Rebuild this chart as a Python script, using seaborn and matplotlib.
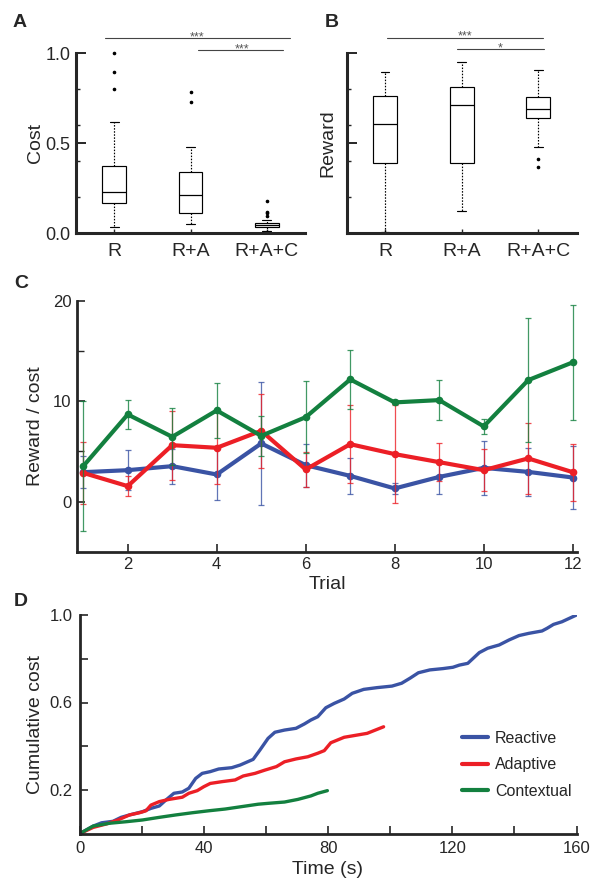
import numpy as np
import pandas as pd
import matplotlib
matplotlib.use("Agg")
import matplotlib.pyplot as plt
import seaborn as sns
from matplotlib.ticker import FixedLocator

sns.set_style("ticks")
plt.rcParams["font.family"] = ["Liberation Sans", "DejaVu Sans"]

# ---------------- data ----------------
conditions = ["R", "R+A", "R+A+C"]

cost_R = [0.037, 0.09, 0.12, 0.15, 0.167, 0.18, 0.20, 0.215, 0.228, 0.25, 0.28, 0.32, 0.372,
          0.618, 0.80, 0.896, 1.0]
cost_RA = [0.052, 0.07, 0.09, 0.10, 0.111, 0.14, 0.17, 0.19, 0.213, 0.24, 0.27, 0.31, 0.339,
           0.40, 0.481, 0.728, 0.783]
cost_RAC = [0.011, 0.02, 0.026, 0.03, 0.034, 0.037, 0.039, 0.041, 0.043, 0.045, 0.046, 0.048,
            0.05, 0.052, 0.054, 0.056, 0.076, 0.098, 0.111, 0.12, 0.179]

# Panel B: reward per condition (normalised 0..1 axis)
reward_R = [0.009, 0.25, 0.392, 0.50, 0.609, 0.70, 0.763, 0.84, 0.898]
reward_RA = [0.126, 0.28, 0.389, 0.55, 0.713, 0.77, 0.811, 0.89, 0.952]
reward_RAC = [0.367, 0.411, 0.481, 0.639, 0.66, 0.675, 0.691, 0.72, 0.74, 0.759, 0.82, 0.87, 0.909]

# Panel C: reward / cost per trial
trials = list(range(1, 13))
reactive = [2.92, 3.12, 3.52, 2.69, 5.78, 3.62, 2.55, 1.30, 2.45, 3.35, 2.95, 2.39]
reactive_err = [1.6, 2.0, 1.75, 2.5, 6.15, 2.15, 1.78, 0.55, 1.72, 2.7, 2.4, 3.15]
adaptive = [2.85, 1.53, 5.61, 5.35, 7.04, 3.19, 5.71, 4.72, 3.92, 3.12, 4.29, 2.92]
adaptive_err = [3.1, 1.0, 3.45, 3.6, 3.7, 1.78, 3.86, 4.9, 1.9, 2.06, 3.5, 2.85]
contextual = [3.52, 8.67, 6.44, 9.07, 6.54, 8.40, 12.16, 9.87, 10.1, 7.48, 12.09, 13.86]
contextual_err = [6.48, 1.47, 2.83, 2.73, 2.0, 3.6, 2.9, 0.2, 2.0, 0.77, 6.2, 5.75]

# Panel D: cumulative cost over time
t_reactive = [0, 4.4, 7.1, 10.8, 13.4, 16.1, 20.3, 23.0, 25.7, 27.8, 30.4, 33.1, 35.2, 37.4,
              39.5, 42.1, 44.8, 49.0, 51.7, 55.9, 58.1, 60.7, 62.9, 66.0, 69.7, 72.4, 74.5,
              76.7, 79.3, 82.0, 85.2, 87.8, 91.5, 95.8, 100.6, 103.7, 106.4, 109.1, 112.8,
              117.0, 120.2, 122.3, 125.0, 128.7, 131.4, 135.1, 138.3, 141.5, 144.6, 148.9,
              150.5, 152.6, 155.3, 160.0]
c_reactive = [0.0, 0.035, 0.05, 0.057, 0.075, 0.086, 0.101, 0.116, 0.127, 0.154, 0.185, 0.191,
              0.208, 0.253, 0.276, 0.284, 0.296, 0.302, 0.314, 0.34, 0.383, 0.436, 0.464,
              0.474, 0.482, 0.502, 0.52, 0.535, 0.576, 0.596, 0.616, 0.642, 0.66, 0.668,
              0.675, 0.688, 0.711, 0.736, 0.749, 0.755, 0.761, 0.771, 0.779, 0.828, 0.848,
              0.863, 0.886, 0.906, 0.916, 0.927, 0.939, 0.957, 0.969, 1.0]
t_adaptive = [0, 4.4, 8.7, 12.4, 16.1, 19.3, 21.4, 23.0, 25.7, 28.8, 33.1, 35.2, 37.9, 40.0,
              42.1, 45.8, 50.1, 52.7, 56.5, 59.7, 63.4, 66.0, 69.7, 73.5, 76.7, 78.8, 80.9,
              85.2, 88.9, 92.6, 97.9]
c_adaptive = [0.0, 0.029, 0.045, 0.063, 0.086, 0.096, 0.105, 0.131, 0.147, 0.157, 0.167,
              0.185, 0.197, 0.215, 0.230, 0.238, 0.246, 0.264, 0.276, 0.291, 0.307, 0.329,
              0.342, 0.352, 0.368, 0.38, 0.416, 0.441, 0.45, 0.459, 0.489]
t_contextual = [0, 4.4, 9.7, 15.0, 20.3, 25.7, 31.0, 36.3, 41.6, 46.9, 52.2, 57.5, 60.7, 66.0,
                70.3, 74.5, 76.7, 79.8]
c_contextual = [0.0, 0.035, 0.048, 0.055, 0.063, 0.075, 0.086, 0.096, 0.105, 0.113, 0.124,
                0.135, 0.139, 0.145, 0.157, 0.173, 0.185, 0.197]

series_names = ["Reactive", "Adaptive", "Contextual"]
colors = {"Reactive": "#3A53A4", "Adaptive": "#EC1F26", "Contextual": "#13803F"}

# ---------------- figure ----------------
W, H = 592, 886
fig = plt.figure(figsize=(W / 100, H / 100), dpi=100)


def px_axes(left, top, right, bottom):
    return fig.add_axes([left / W, (H - bottom) / H, (right - left) / W, (bottom - top) / H])


axA = px_axes(76, 53.3, 305, 233.3)
axB = px_axes(346.7, 53.3, 576.7, 233.3)
axC = px_axes(77.3, 300.7, 576.5, 551.7)
axD = px_axes(79.5, 615.0, 576.5, 833.75)


def draw_box(ax, lists):
    df = pd.DataFrame({
        "cond": np.repeat(conditions, [len(d) for d in lists]),
        "val": np.concatenate(lists),
    })
    sns.boxplot(data=df, x="cond", y="val", order=conditions, ax=ax, width=0.31,
                color="white", linecolor="black", linewidth=0.85, whis=1.5,
                fliersize=1.6,
                whiskerprops=dict(linestyle=(0, (1.3, 1.3))),
                flierprops=dict(marker="o", markerfacecolor="black",
                                markeredgecolor="black"),
                medianprops=dict(color="black", linewidth=0.9))
    medians = [np.median(d) for d in lists]
    for ln in ax.lines:
        x = np.asarray(ln.get_xdata(), dtype=float)
        y = np.asarray(ln.get_ydata(), dtype=float)
        if len(x) == 2 and y[0] == y[1] and x[0] != x[1]:
            c = (x[0] + x[1]) / 2
            i = int(round(c))
            if not np.isclose(y[0], medians[i]):
                ln.set_xdata([c - 0.058, c + 0.058])
                ln.set_linestyle("-")
    for art in ax.lines + ax.patches:
        art.set_clip_on(False)
    ax.set_xlim(-0.5, 2.5)
    ax.set_ylim(0, 1.0)
    ax.set_xlabel("")
    sns.despine(ax=ax)
    for s in ["left", "bottom"]:
        ax.spines[s].set_linewidth(2.2)
    ax.yaxis.set_major_locator(FixedLocator([0, 0.5, 1.0]))
    ax.yaxis.set_minor_locator(FixedLocator([0.2, 0.4, 0.6, 0.8]))
    ax.tick_params(axis="y", which="major", direction="in", length=7, width=1.4,
                   labelsize=13, pad=4)
    ax.tick_params(axis="y", which="minor", direction="in", length=3, width=1.0)
    ax.tick_params(axis="x", direction="in", length=3, width=1.0, labelsize=14, pad=7)


# Panel A
draw_box(axA, [cost_R, cost_RA, cost_RAC])
axA.set_yticklabels(["0.0", "0.5", "1.0"])
axA.set_ylabel("Cost", fontsize=14)
axA.yaxis.set_label_coords(-0.14, 0.5)

# Panel B
draw_box(axB, [reward_R, reward_RA, reward_RAC])
axB.set_yticklabels([])
axB.set_ylabel("Reward", fontsize=14)
axB.yaxis.set_label_coords(-0.045, 0.5)


def sig(ax, x0, x1, y, label, xt):
    ax.plot([x0, x1], [y, y], color="#444444", lw=0.8, clip_on=False)
    ax.text(xt, y - 0.012, label, fontsize=9, color="#555555", ha="center",
            va="baseline", clip_on=False)


sig(axA, -0.12, 2.30, 1.083, "***", 1.09)
sig(axA, 1.10, 2.21, 1.018, "***", 1.68)
sig(axB, 0.03, 2.06, 1.087, "***", 1.04)
sig(axB, 0.94, 2.07, 1.022, "*", 1.50)

# Panel C
for name, vals, err, z in [("Reactive", reactive, reactive_err, 2),
                           ("Adaptive", adaptive, adaptive_err, 4),
                           ("Contextual", contextual, contextual_err, 6)]:
    col = colors[name]
    axC.errorbar(trials, vals, yerr=err, fmt="none", ecolor=col, elinewidth=0.9,
                 capsize=2.0, capthick=0.9, alpha=0.8, zorder=z)
    sns.lineplot(x=trials, y=vals, ax=axC, color=col, linewidth=3.0, marker="o",
                 markersize=5.5, markeredgewidth=0, zorder=z + 0.5)
axC.set_xlim(0.867, 12.085)
axC.set_ylim(-5, 20)
sns.despine(ax=axC)
for s in ["left", "bottom"]:
    axC.spines[s].set_linewidth(2.0)
axC.spines["left"].set_bounds(-5, 20)
axC.xaxis.set_major_locator(FixedLocator([2, 4, 6, 8, 10, 12]))
axC.yaxis.set_major_locator(FixedLocator([0, 10, 20]))
axC.yaxis.set_minor_locator(FixedLocator([5, 15]))
axC.tick_params(axis="both", which="major", direction="in", length=6, width=1.2,
                labelsize=12, pad=4)
axC.tick_params(axis="y", which="minor", direction="in", length=5, width=1.0)
axC.set_xlabel("Trial", fontsize=14)
axC.set_ylabel("Reward / cost", fontsize=14)
axC.yaxis.set_label_coords(-0.067, 0.5)
axC.xaxis.set_label_coords(0.5, -0.097)

# Panel D
dfD = pd.concat([
    pd.DataFrame({"time": t_reactive, "cost": c_reactive, "series": "Reactive"}),
    pd.DataFrame({"time": t_adaptive, "cost": c_adaptive, "series": "Adaptive"}),
    pd.DataFrame({"time": t_contextual, "cost": c_contextual, "series": "Contextual"}),
])
sns.lineplot(data=dfD, x="time", y="cost", hue="series", hue_order=series_names,
             palette=colors, estimator=None, linewidth=2.4, ax=axD)
axD.set_xlim(0, 160)
axD.set_ylim(0, 1.0)
sns.despine(ax=axD)
for s in ["left", "bottom"]:
    axD.spines[s].set_linewidth(2.0)
axD.xaxis.set_major_locator(FixedLocator([0, 40, 80, 120, 160]))
axD.xaxis.set_minor_locator(FixedLocator([20, 60, 100, 140]))
axD.yaxis.set_major_locator(FixedLocator([0.2, 0.6, 1.0]))
axD.yaxis.set_minor_locator(FixedLocator([0.4, 0.8]))
axD.tick_params(axis="both", which="both", direction="in", length=6, width=1.2)
axD.tick_params(axis="both", which="major", labelsize=12, pad=5)
axD.set_yticklabels(["0.2", "0.6", "1.0"])
axD.set_xlabel("Time (s)", fontsize=14)
axD.set_ylabel("Cumulative cost", fontsize=14)
axD.yaxis.set_label_coords(-0.071, 0.5)
axD.xaxis.set_label_coords(0.5, -0.125)
handles, labels = axD.get_legend_handles_labels()
for h in handles:
    h.set_linewidth(3.0)
axD.legend(handles, labels, loc="upper left", bbox_to_anchor=(0.757, 0.50),
           frameon=False, fontsize=11.5, handlelength=1.6, handletextpad=0.45,
           labelspacing=0.72, borderaxespad=0)

# Panel letters
for lab, x, y in [("A", 13, 27), ("B", 325, 27), ("C", 14, 288), ("D", 14, 606)]:
    fig.text(x / W, 1 - y / H, lab, fontsize=14, fontweight="bold", va="baseline")

fig.savefig("out.png", dpi=100)
